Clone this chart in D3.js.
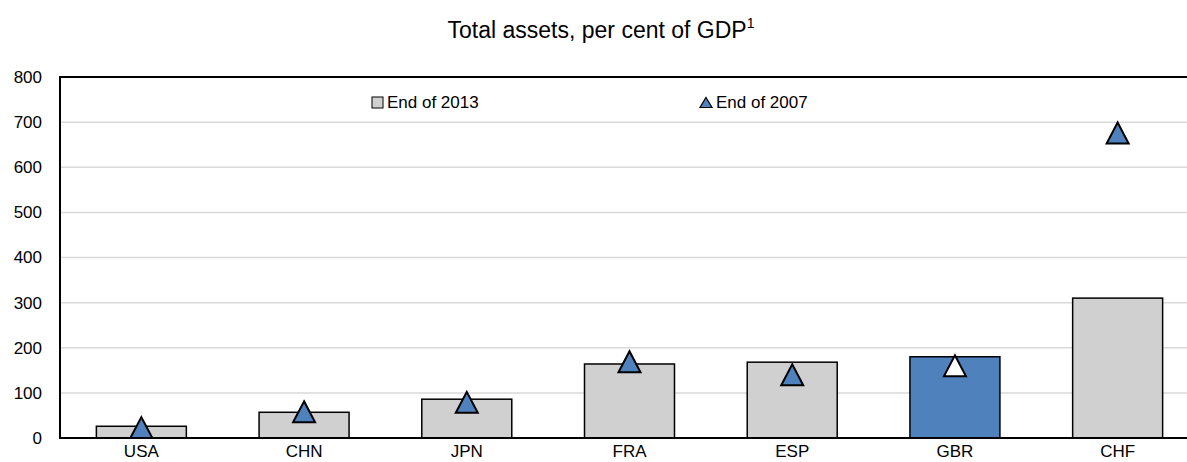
<!DOCTYPE html>
<html>
<head>
<meta charset="utf-8">
<script src="https://cdn.jsdelivr.net/npm/d3@7"></script>
<style>
  html, body { margin: 0; padding: 0; background: #fff; overflow: hidden; }
  svg { display: block; }
  text { font-family: "Liberation Sans", Arial, sans-serif; }
</style>
</head>
<body>
<svg id="chart" width="1187" height="462"></svg>
<script>
const categories = ["USA", "CHN", "JPN", "FRA", "ESP", "GBR", "CHF"];
const end2013 = [26, 57, 86, 164, 168, 180, 310];
const end2007 = [23, 58, 79, 169, 140, 160, 676];
const highlight = "GBR";
const yTicks = [0, 100, 200, 300, 400, 500, 600, 700, 800];
const seriesNames = ["End of 2013", "End of 2007"];

(function () {
const svg = d3.select("#chart");
const pLeft = 60, pRight = 1199, pTop = 77, pBottom = 438;
const blue = "#4f81bd", grey = "#d0d0d0";
const fs = "17px";

const y = d3.scaleLinear().domain([0, 800]).range([pBottom, pTop]);
const x = d3.scaleBand().domain(categories).range([pLeft, pRight])
  .paddingInner(0.447).paddingOuter(0.2235);

// title
const title = svg.append("text")
  .attr("x", 601).attr("y", 38)
  .attr("text-anchor", "middle")
  .style("font-size", "23px")
  .attr("fill", "#000");
title.append("tspan").text("Total assets, per cent of GDP");
title.append("tspan").attr("dy", -10).style("font-size", "14px").text("1");

// gridlines
svg.append("g").selectAll("line").data(yTicks.filter(d => d > 0 && d < 800)).join("line")
  .attr("x1", pLeft).attr("x2", 1187)
  .attr("y1", d => y(d)).attr("y2", d => y(d))
  .attr("stroke", "#d9d9d9").attr("stroke-width", 1.5);

// y axis
const yAxis = d3.axisLeft(y).tickValues(yTicks).tickSize(0).tickPadding(18);
const gy = svg.append("g").attr("transform", `translate(${pLeft},0)`).call(yAxis);
gy.select(".domain").remove();
gy.attr("font-family", null);
gy.selectAll("text").style("font-size", fs).attr("fill", "#000");

// bars
svg.append("g").selectAll("rect").data(categories).join("rect")
  .attr("x", d => x(d))
  .attr("y", (d, i) => y(end2013[i]))
  .attr("width", x.bandwidth())
  .attr("height", (d, i) => y(0) - y(end2013[i]))
  .attr("fill", d => d === highlight ? blue : grey)
  .attr("stroke", "#000").attr("stroke-width", 1.5);

// frame lines
svg.append("line").attr("x1", pLeft).attr("x2", 1187).attr("y1", pTop).attr("y2", pTop)
  .attr("stroke", "#000").attr("stroke-width", 2);
svg.append("line").attr("x1", pLeft).attr("x2", pLeft).attr("y1", pTop - 1).attr("y2", pBottom + 1)
  .attr("stroke", "#000").attr("stroke-width", 2);
svg.append("line").attr("x1", pLeft).attr("x2", 1187).attr("y1", pBottom).attr("y2", pBottom)
  .attr("stroke", "#000").attr("stroke-width", 2);

// triangles
const tri = (cx, cy, w, h) => `M${cx},${cy - h / 2}L${cx + w / 2},${cy + h / 2}L${cx - w / 2},${cy + h / 2}Z`;
svg.append("g").selectAll("path").data(categories).join("path")
  .attr("d", (d, i) => tri(x(d) + x.bandwidth() / 2, y(end2007[i]), 22, 21))
  .attr("fill", d => d === highlight ? "#fff" : blue)
  .attr("stroke", "#000").attr("stroke-width", 2).attr("stroke-linejoin", "miter");

// x labels
const xAxis = d3.axisBottom(x).tickSize(0).tickPadding(0);
const gx = svg.append("g").attr("transform", `translate(0,${pBottom})`).call(xAxis);
gx.select(".domain").remove();
gx.attr("font-family", null);
gx.selectAll("text").style("font-size", fs).attr("fill", "#000")
  .attr("dy", null).attr("y", 19);

// legend
const lg = svg.append("g");
lg.append("rect").attr("x", 372).attr("y", 97).attr("width", 11).attr("height", 11)
  .attr("fill", grey).attr("stroke", "#000").attr("stroke-width", 1);
lg.append("text").attr("x", 387).attr("y", 108)
  .style("font-size", fs).text(seriesNames[0]);
lg.append("path").attr("d", tri(706, 102.5, 12, 10))
  .attr("fill", blue).attr("stroke", "#000").attr("stroke-width", 1.2);
lg.append("text").attr("x", 716).attr("y", 108)
  .style("font-size", fs).text(seriesNames[1]);
})();
</script>
</body>
</html>
